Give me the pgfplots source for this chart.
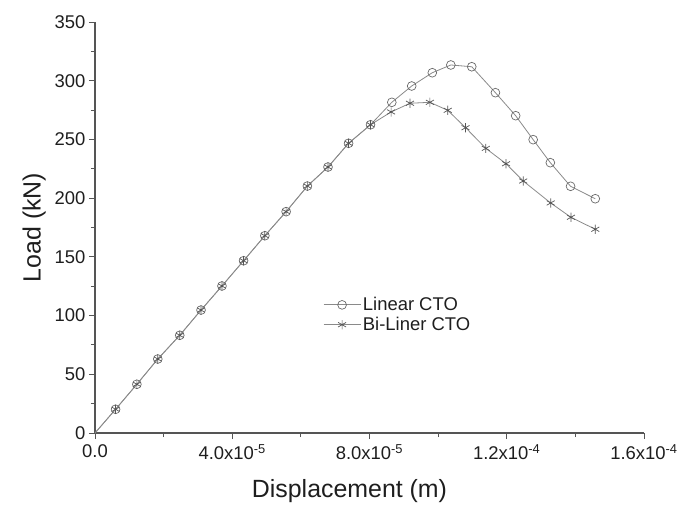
\documentclass[border=0pt]{standalone}
\usepackage{fontspec}
\setmainfont{Liberation Sans}
\usepackage{pgfplots}
\pgfplotsset{compat=1.18}
\definecolor{linegray}{HTML}{8A8A8A}
\definecolor{markgray}{HTML}{6A6A6A}
\definecolor{axgray}{HTML}{555555}
\definecolor{txt}{HTML}{1E1E1E}
\begin{document}
\begin{tikzpicture}
\useasboundingbox (-95bp,-75bp) rectangle (583bp,433bp);
\begin{axis}[
  at={(0,0)}, anchor=south west,
  scale only axis,
  width=549bp, height=411bp,
  xmin=0, xmax=1.6e-4, ymin=0, ymax=350,
  axis lines*=left,
  axis line style={axgray, line width=1.1pt},
  tick style={axgray, line width=1pt},
  tick align=outside,
  major tick length=6bp, minor tick length=4bp,
  xtick={0,4e-5,8e-5,1.2e-4,1.6e-4},
  minor xtick={2e-5,6e-5,1e-4,1.4e-4},
  xticklabels={0.0, 4.0x10\textsuperscript{-5}, 8.0x10\textsuperscript{-5}, 1.2x10\textsuperscript{-4}, 1.6x10\textsuperscript{-4}},
  scaled x ticks=false,
  ytick={0,50,...,350},
  minor ytick={25,75,...,325},
  /pgf/number format/assume math mode=true,
  ticklabel style={font=\fontsize{18.5}{22}\selectfont, text=txt},
  xticklabel style={yshift=-2bp},
  label style={font=\fontsize{25}{30}\selectfont, text=txt},
  xlabel={Displacement (m)},
  ylabel={Load (kN)},
  xlabel style={yshift=-13bp, xshift=-20bp},
  ylabel style={yshift=2bp},
  legend style={at={(0.41,0.34)}, anchor=north west, draw=none, fill=none,
    font=\fontsize{18.5}{22}\selectfont, text=txt, row sep=1bp,
    /tikz/every even column/.append style={column sep=2bp}},
  legend cell align=left,
  legend image code/.code={
    \draw[#1, mark indices={2}] plot coordinates {(0cm,0cm) (0.65cm,0cm) (1.3cm,0cm)};
  },
]
\addplot[color=linegray, line width=0.8pt, mark=o, mark size=4.4bp,
  mark options={draw=markgray, line width=0.7pt, fill=white, solid},
  mark indices={2,...,25}] coordinates {
(0,0) (0.60e-5,20.2) (1.22e-5,41.5) (1.83e-5,63.0) (2.47e-5,83.2) (3.09e-5,104.7)
(3.70e-5,125.2) (4.33e-5,146.7) (4.95e-5,168.0) (5.57e-5,188.5) (6.19e-5,210.3)
(6.79e-5,226.5) (7.39e-5,246.7) (8.03e-5,262.5) (8.65e-5,281.6) (9.23e-5,295.5)
(9.83e-5,306.8) (10.37e-5,313.4) (10.98e-5,311.9) (11.67e-5,289.8) (12.26e-5,270.2)
(12.77e-5,249.8) (13.27e-5,230.2) (13.86e-5,210.1) (14.58e-5,199.5)
};
\addlegendentry{Linear CTO}
\addplot[color=linegray, line width=0.8pt, mark=asterisk, mark size=4.6bp,
  mark options={draw=markgray!80!black, line width=0.7pt, solid},
  mark indices={2,...,25}] coordinates {
(0,0) (0.60e-5,20.2) (1.22e-5,41.5) (1.83e-5,63.0) (2.47e-5,83.2) (3.09e-5,104.7)
(3.70e-5,125.2) (4.33e-5,146.7) (4.95e-5,168.0) (5.57e-5,188.5) (6.19e-5,210.3)
(6.79e-5,226.5) (7.39e-5,246.7) (8.03e-5,262.5) (8.63e-5,273.4) (9.18e-5,280.8)
(9.76e-5,281.6) (10.28e-5,274.8) (10.80e-5,260.0) (11.39e-5,242.4) (11.98e-5,229.3)
(12.48e-5,214.6) (13.28e-5,195.9) (13.87e-5,183.7) (14.58e-5,173.5)
};
\addlegendentry{Bi-Liner CTO}
\end{axis}
\end{tikzpicture}
\end{document}
